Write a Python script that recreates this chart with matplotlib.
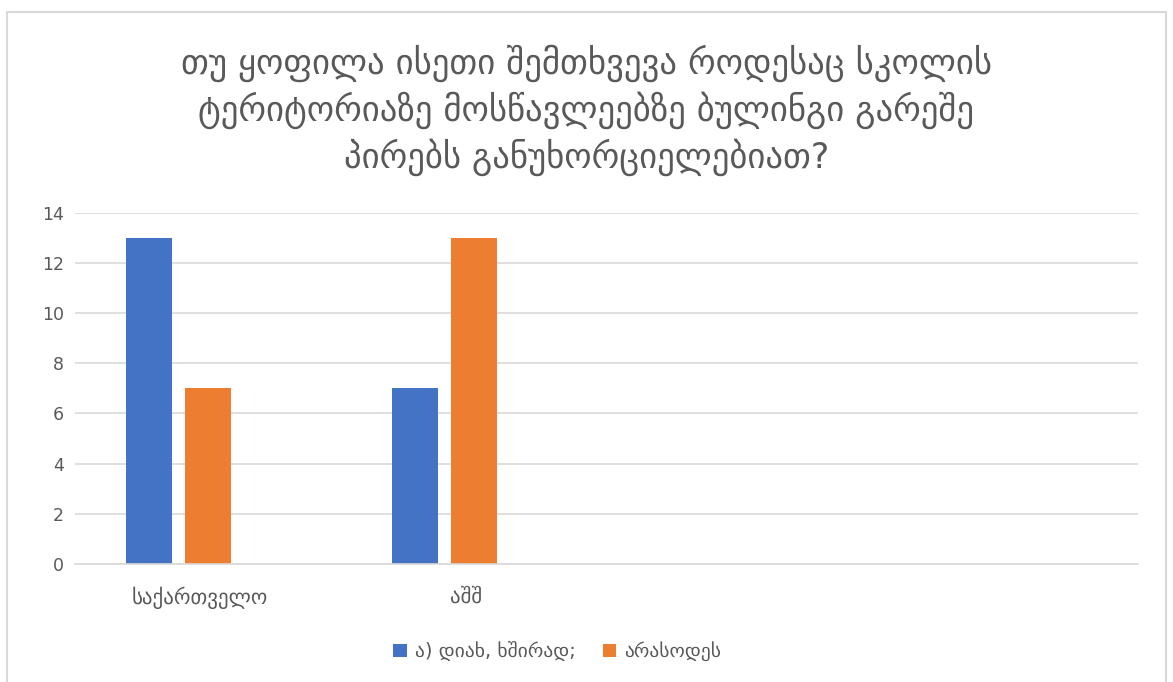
import matplotlib.pyplot as plt
import numpy as np
from matplotlib.patches import Rectangle

title = ("თუ ყოფილა ისეთი შემთხვევა როდესაც სკოლის\n"
         "ტერიტორიაზე მოსწავლეებზე ბულინგი გარეშე\n"
         "პირებს განუხორციელებიათ?")
categories = ["საქართველო", "აშშ", "", ""]
often = [13, 7, 0, 0]
never = [7, 13, 0, 0]
series_names = ["ა) დიახ, ხშირად;", "არასოდეს"]
yticks = [0, 2, 4, 6, 8, 10, 12, 14]

gray = "#595959"
fig = plt.figure(figsize=(11.73, 6.82), dpi=100)
fig.patches.append(Rectangle((0.006, -0.01), 0.988, 0.993, transform=fig.transFigure,
                             fill=False, edgecolor="#d9d9d9", linewidth=1.5))
ax = fig.add_axes([0.064, 0.173, 0.906, 0.515])

x = np.arange(len(categories))
w = 0.173
ax.bar(x - 0.222, often, w, color="#4472c4", label=series_names[0])
ax.bar(x, never, w, color="#ed7d31", label=series_names[1])

ax.set_xlim(-0.5, len(categories) - 0.5)
ax.set_ylim(0, 14)
ax.set_yticks(yticks)
ax.set_xticks(x - 0.03)
ax.set_xticklabels(categories)
ax.tick_params(length=0, labelsize=12.5, colors=gray, pad=8)
ax.tick_params(axis="x", pad=16, labelsize=15)
ax.grid(axis="y", color="#d9d9d9", linewidth=1.2)
ax.set_axisbelow(True)
for s in ["top", "right", "left"]:
    ax.spines[s].set_visible(False)
ax.spines["bottom"].set_color("#d9d9d9")
ax.spines["bottom"].set_linewidth(1.2)

fig.text(0.5, 0.838, title, ha="center", va="center", fontsize=25, color=gray,
         linespacing=1.32)
fig.legend(loc="center", bbox_to_anchor=(0.475, 0.045), ncol=2, frameon=False,
           fontsize=14, labelcolor=gray, handlelength=0.7, handleheight=0.7,
           handletextpad=0.4, columnspacing=1.4)

fig.savefig("out.png", dpi=100)
